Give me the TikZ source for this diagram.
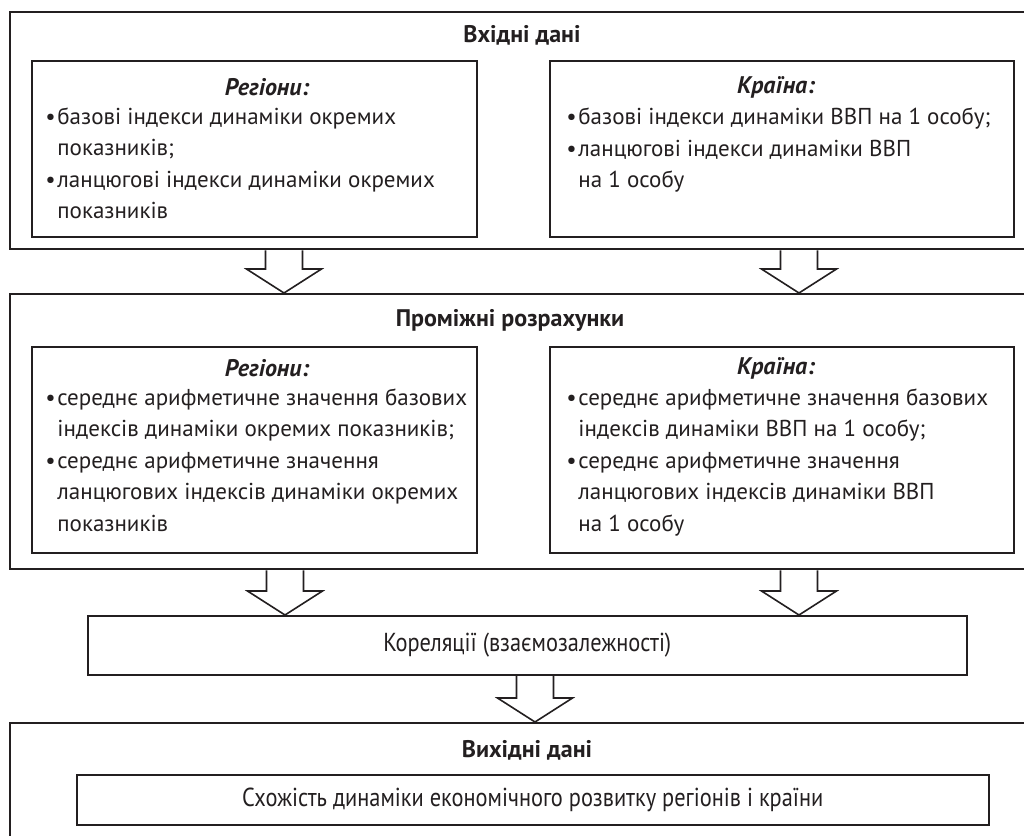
\documentclass[tikz,border=0pt]{standalone}
\usepackage{fontspec}
\setmainfont{PT Sans}
\newfontfamily\narrowfont[FakeStretch=0.86]{PT Sans}
\usetikzlibrary{positioning,calc}
\definecolor{ink}{RGB}{35,31,32}
\tikzset{outer/.style={draw=ink,line width=1.2pt,anchor=north west,inner sep=0pt,minimum width=515.5pt}}
\tikzset{inbox/.style={draw=ink,line width=0.8pt,anchor=north west,inner sep=0pt}}
\tikzset{title/.style={font=\fontsize{12}{14}\selectfont\bfseries,text=ink,inner sep=0pt}}
\tikzset{head/.style={font=\fontsize{12}{14}\selectfont\bfseries\itshape,text=ink,inner sep=0pt}}
\tikzset{items/.style={font=\fontsize{11.5}{15.75}\selectfont,text=ink,anchor=west,inner sep=0pt}}
\tikzset{barrow/.style={draw=ink,line width=0.8pt,line join=miter}}
\newcommand{\blockarrow}[2]{%
  \draw[barrow] let \p1=(#1), \p2=(#2) in
    (\x1-9.25pt,\y1) -- (\x1-9.25pt,\y2+12pt) -- (\x1-18.75pt,\y2+12pt)
    -- (\x1,\y2) -- (\x1+18.75pt,\y2+12pt) -- (\x1+9.25pt,\y2+12pt) -- (\x1+9.25pt,\y1);}
\newcommand{\bl}{\makebox[6pt][l]{•}}

\begin{document}
\begin{tikzpicture}[x=0.5pt,y=-0.5pt]
  \clip (0,0) rectangle (1024,836);
  \fill[white] (0,0) rectangle (1024,836);

  % input data
  \node[outer,minimum height=118.5pt] (inp) at (9,11) {};
  \node[title] (inpt) at (522,35) {Вхідні дані};
  \node[inbox,minimum width=222.5pt,minimum height=88pt] (inreg) at (31,60) {};
  \node[inbox,minimum width=232pt,minimum height=88pt] (incty) at (549,60) {};
  \node[head] (inregh) at (267,87) {Регіони:};
  \node[head] (inctyh) at (776,87) {Країна:};
  \node[items] (inregl) at (45,165) {\begin{tabular}{@{}l@{}l@{}}
    \bl & базові індекси динаміки окремих\\
        & показників;\\
    \bl & ланцюгові індекси динаміки окремих\\
        & показників
  \end{tabular}};
  \node[items] (inctyl) at (566,150) {\begin{tabular}{@{}l@{}l@{}}
    \bl & базові індекси динаміки ВВП на 1 особу;\\
    \bl & ланцюгові індекси динаміки ВВП\\
        & на 1 особу
  \end{tabular}};

  % intermediate
  \node[outer,minimum height=137.5pt] (mid) at (9,293) {};
  \node[title] (midt) at (510,320) {Проміжні розрахунки};
  \node[inbox,minimum width=222.5pt,minimum height=103pt] (midreg) at (31,346) {};
  \node[inbox,minimum width=232pt,minimum height=103pt] (midcty) at (549,346) {};
  \node[head] (midregh) at (267,368) {Регіони:};
  \node[head] (midctyh) at (776,368) {Країна:};
  \node[items] (midregl) at (45,462) {\begin{tabular}{@{}l@{}l@{}}
    \bl & середнє арифметичне значення базових\\
        & індексів динаміки окремих показників;\\
    \bl & середнє арифметичне значення\\
        & ланцюгових індексів динаміки окремих\\
        & показників
  \end{tabular}};
  \node[items] (midctyl) at (566,462) {\begin{tabular}{@{}l@{}l@{}}
    \bl & середнє арифметичне значення базових\\
        & індексів динаміки ВВП на 1 особу;\\
    \bl & середнє арифметичне значення\\
        & ланцюгових індексів динаміки ВВП\\
        & на 1 особу
  \end{tabular}};

  % correlations
  \node[inbox,minimum width=439.5pt,minimum height=29.5pt,
        font=\narrowfont\fontsize{13}{15}\selectfont,text=ink] (korel) at (87,615)
        {Кореляції (взаємозалежності)};

  % output data
  \node[outer,minimum height=75pt] (outp) at (9,722) {};
  \node[title] (outpt) at (527,750) {Вихідні дані};
  \node[inbox,minimum width=456pt,minimum height=25pt,
        font=\narrowfont\fontsize{13}{15}\selectfont,text=ink] (simil) at (76,774)
        {Схожість динаміки економічного розвитку регіонів і країни};

  \blockarrow{inp.south -| 284,0}{mid.north -| 284,0}
  \blockarrow{inp.south -| 799,0}{mid.north -| 799,0}
  \blockarrow{mid.south -| 285,0}{korel.north -| 285,0}
  \blockarrow{mid.south -| 799,0}{korel.north -| 799,0}
  \blockarrow{korel.south -| 535,0}{outp.north -| 535,0}
\end{tikzpicture}
\end{document}
